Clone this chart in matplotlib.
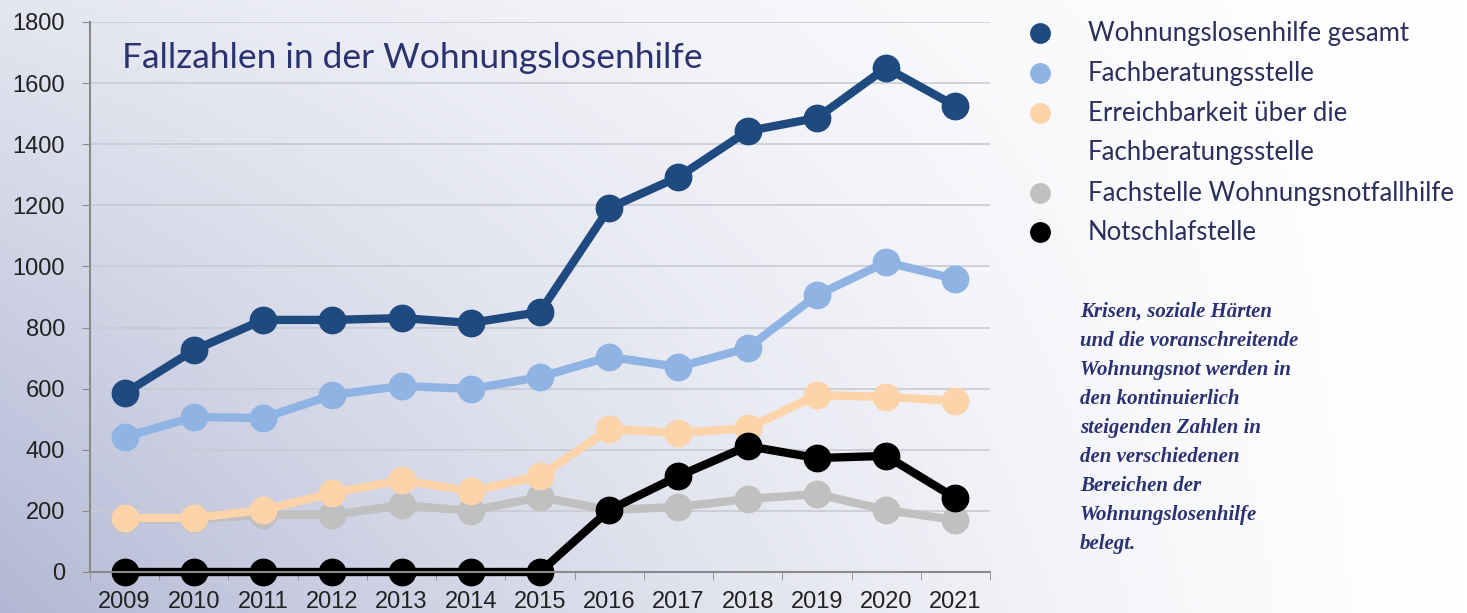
import numpy as np
import matplotlib
matplotlib.use('Agg')
import matplotlib.pyplot as plt

# case numbers per year and service
years = ['2009', '2010', '2011', '2012', '2013', '2014', '2015',
         '2016', '2017', '2018', '2019', '2020', '2021']
gesamt = [585, 726, 825, 825, 831, 815, 851, 1191, 1293, 1443, 1486, 1650, 1525]
fachberatung = [442, 507, 504, 579, 609, 599, 638, 704, 671, 733, 906, 1014, 959]
erreichbarkeit = [177, 177, 203, 258, 301, 265, 314, 468, 455, 471, 579, 573, 560]
notfallhilfe = [172, 172, 187, 187, 219, 200, 245, 203, 213, 239, 255, 203, 170]
notschlaf = [0, 0, 0, 0, 0, 0, 0, 203, 314, 412, 373, 380, 242]

legend_labels = ['Wohnungslosenhilfe gesamt', 'Fachberatungsstelle',
                 'Erreichbarkeit über die\nFachberatungsstelle',
                 'Fachstelle Wohnungsnotfallhilfe', 'Notschlafstelle']
colors = ['#1f4a80', '#8fb4e3', '#fdd3a9', '#c0c0c0', '#000000']

note = ("Krisen, soziale Härten\nund die voranschreitende\nWohnungsnot werden in\n"
        "den kontinuierlich\nsteigenden Zahlen in\nden verschiedenen\n"
        "Bereichen der\nWohnungslosenhilfe\nbelegt.")

W, H = 1467, 613
fig = plt.figure(figsize=(W / 100, H / 100), dpi=100)

# soft lavender-to-white background
bg = fig.add_axes([0, 0, 1, 1])
xx, yy = np.meshgrid(np.linspace(0, 1, 400), np.linspace(0, 1, 200))
d = (1 - xx) ** 1.4 * (0.35 + 0.65 * yy)
lav = np.array([0.70, 0.72, 0.83])
img = 1 - d[..., None] * (1 - lav)
bg.imshow(img, aspect='auto', extent=[0, 1, 0, 1], origin='upper')
bg.axis('off')

ax = fig.add_axes([90 / W, 1 - 572 / H, 900 / W, 550 / H])
ax.patch.set_alpha(0)
x = np.arange(len(years))

series = [notfallhilfe, erreichbarkeit, fachberatung, gesamt, notschlaf]
order_colors = [colors[3], colors[2], colors[1], colors[0], colors[4]]
for vals, c in zip(series, order_colors):
    ax.plot(x, vals, color=c, lw=6, marker='o', ms=19, solid_joinstyle='round',
            clip_on=False)

ax.set_xlim(-0.5, len(years) - 0.5)
ax.set_ylim(0, 1800)
ax.set_yticks(range(0, 1801, 200))
ax.set_xticks(x)
ax.set_xticklabels(years)
ax.set_xticks(np.arange(-0.5, len(years), 1), minor=True)
ax.tick_params(axis='x', which='major', length=0, pad=14, labelsize=17, labelcolor='#222222')
ax.tick_params(axis='x', which='minor', length=6, color='#8a8a8a', direction='out')
ax.tick_params(axis='y', length=6, color='#8a8a8a', pad=12, labelsize=17, labelcolor='#222222')
for lab in ax.get_xticklabels() + ax.get_yticklabels():
    lab.set_fontfamily('Liberation Sans')
ax.grid(axis='y', color='#c8cad4', lw=1.2)
ax.set_axisbelow(True)
for s in ['top', 'right']:
    ax.spines[s].set_visible(False)
for s in ['left', 'bottom']:
    ax.spines[s].set_color('#8a8a8a')
    ax.spines[s].set_linewidth(1.5)

ax.text(0.035, 0.935, 'Fallzahlen in der Wohnungslosenhilfe', transform=ax.transAxes,
        fontsize=25.5, color='#2b3270', family='Lato', va='center', ha='left')

# legend drawn by hand
rows = [33, 73, 113, 193, 232]
text_rows = [33, 73, 133, 193, 232]
for r, tr, lab, c in zip(rows, text_rows, legend_labels, colors):
    fig.lines.append(plt.Line2D([1040 / W], [1 - r / H], marker='o', ms=14, color=c,
                                transform=fig.transFigure, figure=fig))
    fig.text(1088 / W, 1 - tr / H, lab, fontsize=18.5, family='Lato', color='#2b2f5a',
             va='center', ha='left', linespacing=1.7)

fig.text(1080 / W, 1 - 302 / H, note, fontsize=15, family='Liberation Serif',
         style='italic', weight='bold', color='#2b3270', va='top', ha='left',
         linespacing=1.6)

fig.savefig('out.png', dpi=100)
